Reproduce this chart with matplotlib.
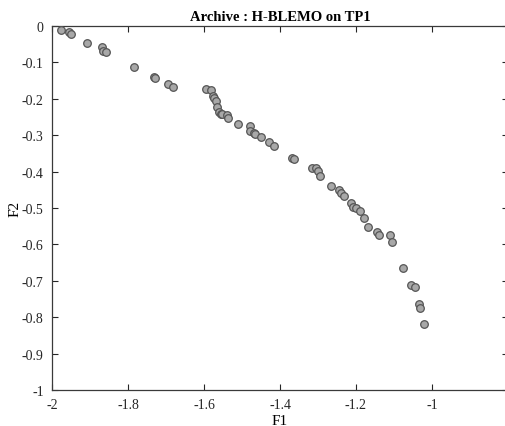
import numpy as np
import matplotlib
matplotlib.use("Agg")
import matplotlib.pyplot as plt

plt.rcParams['font.family'] = ['Liberation Serif', 'DejaVu Serif']

# archive points
f1 = [-1.976, -1.955, -1.951, -1.908, -1.868, -1.865, -1.858, -1.785, -1.731, -1.730,
      -1.694, -1.682, -1.594, -1.582, -1.577, -1.573, -1.568, -1.566, -1.561, -1.555,
      -1.552, -1.539, -1.536, -1.510, -1.478, -1.478, -1.468, -1.466, -1.451, -1.429,
      -1.415, -1.369, -1.364, -1.316, -1.304, -1.300, -1.294, -1.265, -1.244, -1.240,
      -1.231, -1.213, -1.208, -1.200, -1.189, -1.178, -1.168, -1.145, -1.139, -1.111,
      -1.106, -1.075, -1.056, -1.044, -1.035, -1.032, -1.020]
f2 = [-0.012, -0.016, -0.021, -0.046, -0.059, -0.069, -0.072, -0.112, -0.139, -0.143,
      -0.159, -0.168, -0.174, -0.176, -0.191, -0.197, -0.206, -0.223, -0.236, -0.242,
      -0.241, -0.245, -0.254, -0.269, -0.274, -0.289, -0.294, -0.297, -0.305, -0.320,
      -0.331, -0.364, -0.366, -0.390, -0.391, -0.397, -0.412, -0.440, -0.450, -0.459,
      -0.466, -0.487, -0.496, -0.501, -0.509, -0.528, -0.552, -0.567, -0.574, -0.574,
      -0.593, -0.665, -0.712, -0.717, -0.765, -0.775, -0.820]

xticks = [-2, -1.8, -1.6, -1.4, -1.2, -1]
yticks = [0, -0.1, -0.2, -0.3, -0.4, -0.5, -0.6, -0.7, -0.8, -0.9, -1]

fig = plt.figure(figsize=(5.06, 4.27), dpi=100)
ax = fig.add_axes([52/506, 36/427, 456/506, 364/427])

ax.scatter(f1, f2, s=30, c='#a8a8a8', edgecolors='#555555', linewidths=0.9, zorder=3)

ax.set_xlim(-2, -0.8)
ax.set_ylim(-1, 0)
ax.set_xticks(xticks)
ax.set_xticklabels(['%g' % v for v in xticks])
ax.set_yticks(yticks)
ax.set_yticklabels(['%g' % v for v in yticks])
ax.tick_params(direction='in', length=4, width=0.8, top=True, right=True,
               labelsize=10, colors='#262626', pad=6)
for s in ax.spines.values():
    s.set_color('#3a3a3a')
    s.set_linewidth(0.9)

ax.set_xlabel('F1', fontsize=11, labelpad=2)
ax.set_ylabel('F2', fontsize=11, labelpad=0)
ax.set_title('Archive : H-BLEMO on TP1', fontsize=10.5, fontweight='bold', pad=4)

fig.savefig('out.png', dpi=100)
